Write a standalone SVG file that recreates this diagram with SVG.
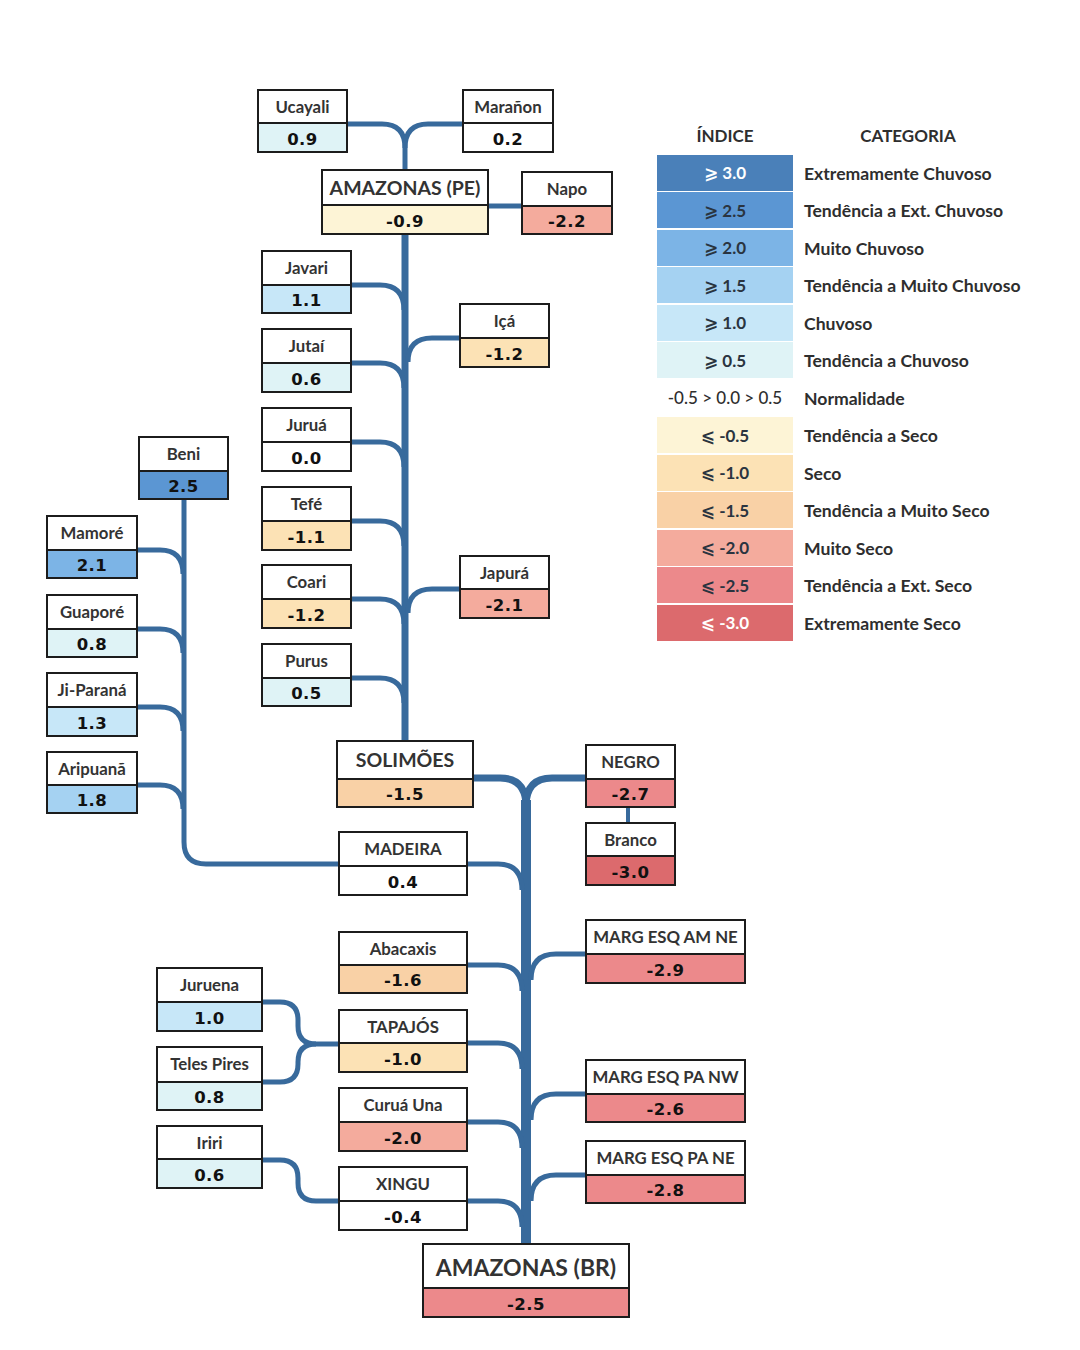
<svg xmlns="http://www.w3.org/2000/svg" width="1080" height="1350" viewBox="0 0 1080 1350">
<style>
.bg{fill:#ffffff}
.box{fill:#ffffff;stroke:#1c1c1c;stroke-width:2}
.val{stroke:#1c1c1c;stroke-width:2}
.nm{font-family:Lato,"Open Sans","DejaVu Sans",sans-serif;font-weight:700;font-size:16.8px;fill:#333333;text-anchor:middle;dominant-baseline:central}
.vl{font-family:"DejaVu Sans","Liberation Sans",sans-serif;font-weight:700;font-size:16.5px;fill:#111111;text-anchor:middle;dominant-baseline:central;letter-spacing:0.5px}
.w{fill:#ffffff}
.c25{fill:#5b96d3}.c20{fill:#7cb4e6}.c15{fill:#a5d2f2}.c10{fill:#c7e7f8}.c05{fill:#dff3f6}.c30{fill:#4a80b9}
.m05{fill:#fdf4d6}.m10{fill:#fce2b5}.m15{fill:#f9d1a6}.m20{fill:#f4ab9d}.m25{fill:#ec898b}.m30{fill:#dc6a6d}
.ln{fill:none;stroke:#386a9c;stroke-linecap:butt}
.lg{font-family:Lato,"Open Sans","DejaVu Sans",sans-serif;font-weight:700;font-size:17.6px;fill:#2e2e2e;dominant-baseline:central}
.li{font-family:Lato,"DejaVu Sans",sans-serif;font-weight:700;font-size:17px;fill:#2a3440;text-anchor:middle;dominant-baseline:central}
</style>
<rect class="bg" x="0" y="0" width="1080" height="1350"/>

<g id="connectors">
  <path class="ln" stroke-width="5" d="M347,124 H382 Q405,124 405,148 V171"/>
  <path class="ln" stroke-width="5" d="M463,124 H428 Q405,124 405,148"/>
  <path class="ln" stroke-width="5" d="M488,206 H522"/>
  <path class="ln" stroke-width="7" d="M405,234 V741"/>
  <path class="ln" stroke-width="5" d="M351,285 H380 Q404,285 404,310"/>
  <path class="ln" stroke-width="5" d="M351,363 H380 Q404,363 404,388"/>
  <path class="ln" stroke-width="5" d="M351,442 H380 Q404,442 404,467"/>
  <path class="ln" stroke-width="5" d="M351,521 H380 Q404,521 404,546"/>
  <path class="ln" stroke-width="5" d="M351,599 H380 Q404,599 404,624"/>
  <path class="ln" stroke-width="5" d="M351,678 H380 Q404,678 404,703"/>
  <path class="ln" stroke-width="5" d="M460,338 H432 Q408,338 408,362"/>
  <path class="ln" stroke-width="5" d="M460,589 H432 Q408,589 408,613"/>
  <path class="ln" stroke-width="5" d="M184,499 V842 Q184,864 206,864 H339"/>
  <path class="ln" stroke-width="5" d="M137,550 H160 Q183,550 183,574"/>
  <path class="ln" stroke-width="5" d="M137,629 H160 Q183,629 183,653"/>
  <path class="ln" stroke-width="5" d="M137,707 H160 Q183,707 183,731"/>
  <path class="ln" stroke-width="5" d="M137,785 H160 Q183,785 183,809"/>
  <path class="ln" stroke-width="7" d="M473,778 H500 Q526,778 526,806"/>
  <path class="ln" stroke-width="7" d="M586,778 H552 Q526,778 526,806"/>
  <path class="ln" stroke-width="10" d="M526,800 V1244"/>
  <path class="ln" stroke-width="4" d="M628,807 V823"/>
  <path class="ln" stroke-width="5" d="M467,864 H498 Q522,864 522,890"/>
  <path class="ln" stroke-width="5" d="M467,965 H498 Q522,965 522,991"/>
  <path class="ln" stroke-width="5" d="M467,1043 H498 Q522,1043 522,1069"/>
  <path class="ln" stroke-width="5" d="M467,1122 H498 Q522,1122 522,1148"/>
  <path class="ln" stroke-width="5" d="M467,1201 H498 Q522,1201 522,1227"/>
  <path class="ln" stroke-width="5" d="M586,954 H556 Q531,954 531,980"/>
  <path class="ln" stroke-width="5" d="M586,1094 H556 Q531,1094 531,1120"/>
  <path class="ln" stroke-width="5" d="M586,1175 H556 Q531,1175 531,1201"/>
  <path class="ln" stroke-width="5" d="M262,1002 H280 Q298,1002 298,1020 V1026 Q298,1044 316,1044 H339"/>
  <path class="ln" stroke-width="5" d="M262,1082 H280 Q298,1082 298,1064 V1062 Q298,1044 316,1044"/>
  <path class="ln" stroke-width="5" d="M262,1160 H280 Q298,1160 298,1178 V1183 Q298,1201 316,1201 H339"/>
</g>

<g id="n-ucayali"><rect class="box" x="258" y="90" width="89" height="62"/><rect class="val c05" x="258" y="123" width="89" height="29"/><text class="nm" x="302.5" y="106">Ucayali</text><text class="vl" x="302.5" y="139">0.9</text></g>
<g id="n-maranon"><rect class="box" x="463" y="90" width="90" height="62"/><rect class="val w" x="463" y="123" width="90" height="29"/><text class="nm" x="508" y="106">Marañon</text><text class="vl" x="508" y="139">0.2</text></g>
<g id="n-amazonas-pe"><rect class="box" x="322" y="170" width="166" height="64"/><rect class="val m05" x="322" y="205" width="166" height="29"/><text class="nm" x="405" y="187" style="font-size:19.5px">AMAZONAS (PE)</text><text class="vl" x="405" y="221">-0.9</text></g>
<g id="n-napo"><rect class="box" x="522" y="172" width="90" height="62"/><rect class="val m20" x="522" y="206" width="90" height="28"/><text class="nm" x="567" y="188.5">Napo</text><text class="vl" x="567" y="221">-2.2</text></g>

<g id="n-javari"><rect class="box" x="262" y="251" width="89" height="62"/><rect class="val c10" x="262" y="285" width="89" height="28"/><text class="nm" x="306.5" y="267.5">Javari</text><text class="vl" x="306.5" y="300.5">1.1</text></g>
<g id="n-jutai"><rect class="box" x="262" y="329" width="89" height="63"/><rect class="val c05" x="262" y="363" width="89" height="29"/><text class="nm" x="306.5" y="345.5">Jutaí</text><text class="vl" x="306.5" y="379">0.6</text></g>
<g id="n-jurua"><rect class="box" x="262" y="408" width="89" height="63"/><rect class="val w" x="262" y="442" width="89" height="29"/><text class="nm" x="306.5" y="424.5">Juruá</text><text class="vl" x="306.5" y="458">0.0</text></g>
<g id="n-tefe"><rect class="box" x="262" y="487" width="89" height="63"/><rect class="val m10" x="262" y="521" width="89" height="29"/><text class="nm" x="306.5" y="503.5">Tefé</text><text class="vl" x="306.5" y="537">-1.1</text></g>
<g id="n-coari"><rect class="box" x="262" y="565" width="89" height="63"/><rect class="val m10" x="262" y="599" width="89" height="29"/><text class="nm" x="306.5" y="581.5">Coari</text><text class="vl" x="306.5" y="615">-1.2</text></g>
<g id="n-purus"><rect class="box" x="262" y="644" width="89" height="62"/><rect class="val c05" x="262" y="678" width="89" height="28"/><text class="nm" x="306.5" y="660.5">Purus</text><text class="vl" x="306.5" y="693.5">0.5</text></g>
<g id="n-ica"><rect class="box" x="460" y="304" width="89" height="63"/><rect class="val m10" x="460" y="338" width="89" height="29"/><text class="nm" x="504.5" y="320.5">Içá</text><text class="vl" x="504.5" y="354">-1.2</text></g>
<g id="n-japura"><rect class="box" x="460" y="556" width="89" height="62"/><rect class="val m20" x="460" y="589" width="89" height="29"/><text class="nm" x="504.5" y="572">Japurá</text><text class="vl" x="504.5" y="605">-2.1</text></g>

<g id="n-beni"><rect class="box" x="139" y="437" width="89" height="62"/><rect class="val c25" x="139" y="471" width="89" height="28"/><text class="nm" x="183.5" y="453.5">Beni</text><text class="vl" x="183.5" y="486.5">2.5</text></g>
<g id="n-mamore"><rect class="box" x="47" y="516" width="90" height="62"/><rect class="val c20" x="47" y="550" width="90" height="28"/><text class="nm" x="92" y="532.5">Mamoré</text><text class="vl" x="92" y="565.5">2.1</text></g>
<g id="n-guapore"><rect class="box" x="47" y="595" width="90" height="62"/><rect class="val c05" x="47" y="629" width="90" height="28"/><text class="nm" x="92" y="611.5">Guaporé</text><text class="vl" x="92" y="644.5">0.8</text></g>
<g id="n-jiparana"><rect class="box" x="47" y="673" width="90" height="63"/><rect class="val c10" x="47" y="707" width="90" height="29"/><text class="nm" x="92" y="689.5">Ji-Paraná</text><text class="vl" x="92" y="723">1.3</text></g>
<g id="n-aripuana"><rect class="box" x="47" y="752" width="90" height="61"/><rect class="val c15" x="47" y="785" width="90" height="28"/><text class="nm" x="92" y="768">Aripuanã</text><text class="vl" x="92" y="800.5">1.8</text></g>

<g id="n-solimoes"><rect class="box" x="337" y="741" width="136" height="66"/><rect class="val m15" x="337" y="779" width="136" height="28"/><text class="nm" x="405" y="759.5" style="font-size:19.5px">SOLIMÕES</text><text class="vl" x="405" y="794.5">-1.5</text></g>
<g id="n-negro"><rect class="box" x="586" y="745" width="89" height="62"/><rect class="val m25" x="586" y="779" width="89" height="28"/><text class="nm" x="630.5" y="761.5">NEGRO</text><text class="vl" x="630.5" y="794.5">-2.7</text></g>
<g id="n-branco"><rect class="box" x="586" y="823" width="89" height="62"/><rect class="val m30" x="586" y="856" width="89" height="29"/><text class="nm" x="630.5" y="839">Branco</text><text class="vl" x="630.5" y="872">-3.0</text></g>
<g id="n-madeira"><rect class="box" x="339" y="832" width="128" height="63"/><rect class="val w" x="339" y="866" width="128" height="29"/><text class="nm" x="403" y="848.5">MADEIRA</text><text class="vl" x="403" y="882">0.4</text></g>

<g id="n-abacaxis"><rect class="box" x="339" y="932" width="128" height="61"/><rect class="val m15" x="339" y="965" width="128" height="28"/><text class="nm" x="403" y="948">Abacaxis</text><text class="vl" x="403" y="980.5">-1.6</text></g>
<g id="n-tapajos"><rect class="box" x="339" y="1010" width="128" height="62"/><rect class="val m10" x="339" y="1043" width="128" height="29"/><text class="nm" x="403" y="1026">TAPAJÓS</text><text class="vl" x="403" y="1059">-1.0</text></g>
<g id="n-curua"><rect class="box" x="339" y="1088" width="128" height="63"/><rect class="val m20" x="339" y="1122" width="128" height="29"/><text class="nm" x="403" y="1104.5">Curuá Una</text><text class="vl" x="403" y="1138">-2.0</text></g>
<g id="n-xingu"><rect class="box" x="339" y="1167" width="128" height="63"/><rect class="val w" x="339" y="1201" width="128" height="29"/><text class="nm" x="403" y="1183.5">XINGU</text><text class="vl" x="403" y="1217">-0.4</text></g>
<g id="n-juruena"><rect class="box" x="157" y="968" width="105" height="63"/><rect class="val c10" x="157" y="1002" width="105" height="29"/><text class="nm" x="209.5" y="984.5">Juruena</text><text class="vl" x="209.5" y="1018">1.0</text></g>
<g id="n-telespires"><rect class="box" x="157" y="1047" width="105" height="63"/><rect class="val c05" x="157" y="1082" width="105" height="28"/><text class="nm" x="209.5" y="1063.5">Teles Pires</text><text class="vl" x="209.5" y="1097.5">0.8</text></g>
<g id="n-iriri"><rect class="box" x="157" y="1126" width="105" height="62"/><rect class="val c05" x="157" y="1159" width="105" height="29"/><text class="nm" x="209.5" y="1142">Iriri</text><text class="vl" x="209.5" y="1175">0.6</text></g>

<g id="n-marg-am-ne"><rect class="box" x="586" y="920" width="159" height="63"/><rect class="val m25" x="586" y="954" width="159" height="29"/><text class="nm" x="665.5" y="936.5">MARG ESQ AM NE</text><text class="vl" x="665.5" y="970">-2.9</text></g>
<g id="n-marg-pa-nw"><rect class="box" x="586" y="1060" width="159" height="62"/><rect class="val m25" x="586" y="1094" width="159" height="28"/><text class="nm" x="665.5" y="1076.5">MARG ESQ PA NW</text><text class="vl" x="665.5" y="1109.5">-2.6</text></g>
<g id="n-marg-pa-ne"><rect class="box" x="586" y="1141" width="159" height="62"/><rect class="val m25" x="586" y="1175" width="159" height="28"/><text class="nm" x="665.5" y="1157.5">MARG ESQ PA NE</text><text class="vl" x="665.5" y="1190.5">-2.8</text></g>
<g id="n-amazonas-br"><rect class="box" x="423" y="1244" width="206" height="73"/><rect class="val m25" x="423" y="1288" width="206" height="29"/><text class="nm" x="526" y="1266.5" style="font-size:23px">AMAZONAS (BR)</text><text class="vl" x="526" y="1304">-2.5</text></g>

<g id="legend">
  <text class="li" x="725" y="135" style="fill:#2e2e2e">ÍNDICE</text>
  <text class="li" x="908" y="135" style="fill:#2e2e2e">CATEGORIA</text>
  <rect class="c30" x="657" y="155" width="136" height="36"/>
  <rect class="c25" x="657" y="192" width="136" height="36"/>
  <rect class="c20" x="657" y="230" width="136" height="36"/>
  <rect class="c15" x="657" y="267" width="136" height="36"/>
  <rect class="c10" x="657" y="305" width="136" height="36"/>
  <rect class="c05" x="657" y="342" width="136" height="36"/>
  <rect class="m05" x="657" y="417" width="136" height="36"/>
  <rect class="m10" x="657" y="455" width="136" height="36"/>
  <rect class="m15" x="657" y="492" width="136" height="36"/>
  <rect class="m20" x="657" y="530" width="136" height="36"/>
  <rect class="m25" x="657" y="567" width="136" height="36"/>
  <rect class="m30" x="657" y="605" width="136" height="36"/>
  <text class="li" x="725" y="172" style="fill:#ffffff">⩾ 3.0</text>
  <text class="li" x="725" y="210">⩾ 2.5</text>
  <text class="li" x="725" y="247">⩾ 2.0</text>
  <text class="li" x="725" y="285">⩾ 1.5</text>
  <text class="li" x="725" y="322">⩾ 1.0</text>
  <text class="li" x="725" y="360">⩾ 0.5</text>
  <text class="li" x="725" y="397" style="font-weight:500;fill:#2e2e2e">-0.5 &gt; 0.0 &gt; 0.5</text>
  <text class="li" x="725" y="435">⩽ -0.5</text>
  <text class="li" x="725" y="472">⩽ -1.0</text>
  <text class="li" x="725" y="510">⩽ -1.5</text>
  <text class="li" x="725" y="547">⩽ -2.0</text>
  <text class="li" x="725" y="585">⩽ -2.5</text>
  <text class="li" x="725" y="622" style="fill:#ffffff">⩽ -3.0</text>
  <text class="lg" x="804" y="173">Extremamente Chuvoso</text>
  <text class="lg" x="804" y="210">Tendência a Ext. Chuvoso</text>
  <text class="lg" x="804" y="248">Muito Chuvoso</text>
  <text class="lg" x="804" y="285">Tendência a Muito Chuvoso</text>
  <text class="lg" x="804" y="323">Chuvoso</text>
  <text class="lg" x="804" y="360">Tendência a Chuvoso</text>
  <text class="lg" x="804" y="398">Normalidade</text>
  <text class="lg" x="804" y="435">Tendência a Seco</text>
  <text class="lg" x="804" y="473">Seco</text>
  <text class="lg" x="804" y="510">Tendência a Muito Seco</text>
  <text class="lg" x="804" y="548">Muito Seco</text>
  <text class="lg" x="804" y="585">Tendência a Ext. Seco</text>
  <text class="lg" x="804" y="623">Extremamente Seco</text>
</g>
</svg>
